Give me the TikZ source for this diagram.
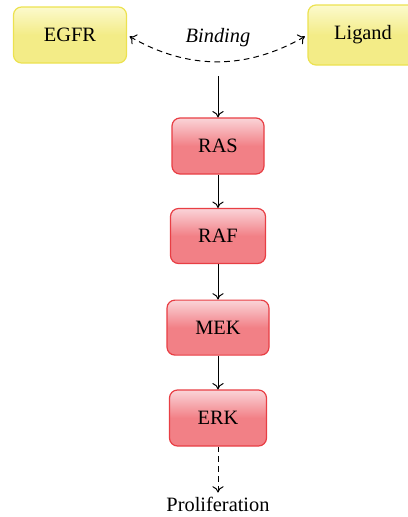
\documentclass[tikz,border=0pt]{standalone}
\usepackage{fontspec}
\setmainfont{Liberation Serif}
\usepackage{tikz}
\usetikzlibrary{arrows.meta}
\definecolor{ylwtop}{RGB}{252,250,205}
\definecolor{ylwbot}{RGB}{243,236,135}
\definecolor{ylwline}{RGB}{236,226,80}
\definecolor{redtop}{RGB}{250,212,216}
\definecolor{redbot}{RGB}{242,128,134}
\definecolor{redline}{RGB}{232,62,68}
\tikzset{
  ligbox/.style={draw=ylwline, line width=0.85pt, rounded corners=0.2cm,
    top color=ylwtop, bottom color=ylwbot, middle color=ylwbot,
    minimum height=1.4cm, font=\fontsize{14.5}{17}\selectfont},
  kinbox/.style={draw=redline, line width=0.85pt, rounded corners=0.2cm,
    top color=redtop, bottom color=redbot, middle color=redbot,
    minimum height=1.4cm, font=\fontsize{14.5}{17}\selectfont},
  sig/.style={line width=0.7pt, -{To[length=4.5pt,width=8pt]}},
  weak/.style={dashed, dash pattern=on 4pt off 3pt}
}

\begin{document}
\begin{tikzpicture}
            \useasboundingbox (0,0) rectangle (10.175,-12.925);
            \node [ligbox, minimum width=2.825cm] (EGFR) at (1.75,-0.875) {EGFR};
            \node [ligbox, minimum width=2.75cm, minimum height=1.5cm] (Lig) at (9.075,-0.875) {Ligand};
            \node [font=\fontsize{14.5}{17}\selectfont\itshape] (B) at (5.45,-0.95) {Binding};

            \node [kinbox, minimum width=2.3cm] (RAS) at (5.45,-3.65) {RAS};
            \node [kinbox, minimum width=2.375cm, minimum height=1.375cm] (RAF) at (5.45,-5.9) {RAF};
            \node [kinbox, minimum width=2.55cm, minimum height=1.375cm] (MEK) at (5.45,-8.19) {MEK};
            \node [kinbox, minimum width=2.425cm] (ERK) at (5.45,-10.45) {ERK};
            \node [font=\fontsize{14.5}{17}\selectfont] (P) at (5.45,-12.62) {Proliferation};

            \coordinate (top) at (5.45,-1.9);
            \draw[sig, weak, {To[length=4.5pt,width=8pt]}-{To[length=4.5pt,width=8pt]}, shorten <=2pt, shorten >=2pt]
                (EGFR.east) to[bend right=30] (Lig.west);
            \draw[sig] (top) -- (RAS);
            \draw[sig] (RAS) -- (RAF);
            \draw[sig] (RAF) -- (MEK);
            \draw[sig] (MEK) -- (ERK);
            \draw[sig, weak] (ERK) -- (P);
        \end{tikzpicture}
\end{document}
